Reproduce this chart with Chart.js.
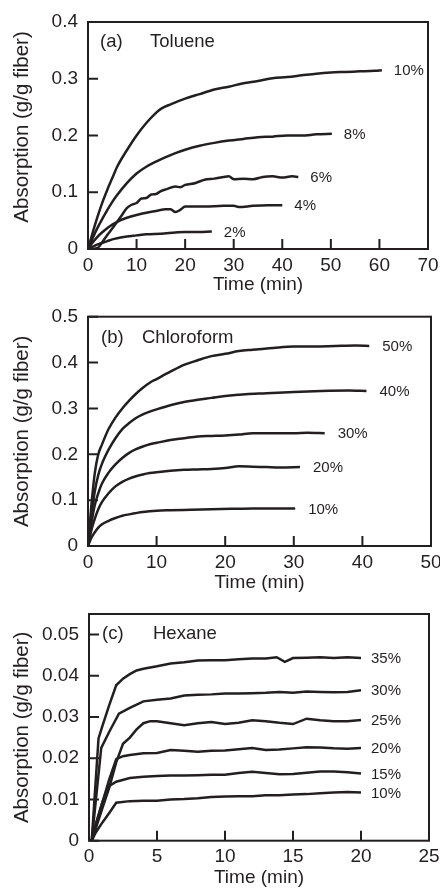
<!DOCTYPE html>
<html>
<head>
<meta charset="utf-8">
<script src="https://cdn.jsdelivr.net/npm/chart.js@4.4.0/dist/chart.umd.min.js"></script>
<style>
    html, body { margin: 0; padding: 0; background: #fff; overflow: hidden; }
    #wrap { position: relative; width: 440px; height: 889px; }
    canvas { position: absolute; left: 0; }
</style>
</head>
<body>
<div id="wrap">
    <canvas id="chartA" width="440" height="296" style="top:0px"></canvas>
    <canvas id="chartB" width="440" height="298" style="top:296px"></canvas>
    <canvas id="chartC" width="440" height="293" style="top:596px"></canvas>
</div>
<script>
// (a) Toluene
const tolT10 = [0, 1, 2, 3, 4, 5, 6, 8, 10, 12, 14, 15, 17, 20, 23, 26, 29, 32, 35, 38, 41, 44, 47, 50, 53, 56, 59, 60.5];
const tolY10 = [0, 0.03, 0.058, 0.083, 0.105, 0.125, 0.145, 0.174, 0.2, 0.222, 0.24, 0.247, 0.255, 0.265, 0.273, 0.281, 0.286, 0.292, 0.296, 0.301, 0.303, 0.306, 0.309, 0.311, 0.312, 0.313, 0.314, 0.315];
const tolT8 = [0, 1, 2, 3, 4, 5, 6, 8, 10, 12, 14, 16, 18, 20, 23, 26, 29, 32, 35, 38, 41, 44, 47, 50.2];
const tolY8 = [0, 0.02, 0.038, 0.054, 0.069, 0.083, 0.095, 0.116, 0.133, 0.145, 0.154, 0.162, 0.169, 0.175, 0.182, 0.187, 0.191, 0.194, 0.197, 0.198, 0.2, 0.2, 0.202, 0.203];
const tolT6 = [0, 2, 3, 4, 5, 6, 7, 8, 9, 10, 11, 12, 13, 14, 15, 16, 18, 19, 20, 22, 24, 26, 28, 29, 30, 32, 34, 36, 38, 40, 42, 43.3];
const tolY6 = [0, 0.002, 0.013, 0.025, 0.036, 0.048, 0.06, 0.072, 0.078, 0.081, 0.089, 0.09, 0.096, 0.097, 0.102, 0.105, 0.11, 0.109, 0.113, 0.116, 0.122, 0.124, 0.127, 0.128, 0.123, 0.124, 0.123, 0.127, 0.128, 0.126, 0.128, 0.127];
const tolT4 = [0, 1, 2, 3, 4, 5, 6, 8, 10, 12, 14, 16, 17, 18, 19, 20, 24, 28, 30, 31, 34, 37, 40];
const tolY4 = [0, 0.012, 0.022, 0.03, 0.037, 0.043, 0.048, 0.055, 0.06, 0.064, 0.067, 0.07, 0.07, 0.065, 0.069, 0.075, 0.075, 0.076, 0.076, 0.074, 0.076, 0.077, 0.077];
const tolT2 = [0, 1, 2, 3, 4, 5, 6, 8, 10, 12, 15, 18, 20, 22, 25.5];
const tolY2 = [0, 0.004, 0.008, 0.011, 0.014, 0.017, 0.019, 0.022, 0.024, 0.026, 0.027, 0.029, 0.03, 0.03, 0.031];

// (b) Chloroform
const chlT50 = [0, 0.5, 1, 1.5, 2, 3, 4, 5, 6, 7, 8, 9, 10, 12, 14, 16, 18, 20, 22, 24, 27, 30, 33, 36, 39, 41];
const chlY50 = [0, 0.09, 0.16, 0.2, 0.22, 0.255, 0.28, 0.3, 0.317, 0.332, 0.345, 0.356, 0.364, 0.38, 0.395, 0.405, 0.414, 0.419, 0.425, 0.428, 0.432, 0.435, 0.435, 0.436, 0.437, 0.436];
const chlT40 = [0, 0.5, 1, 1.5, 2, 3, 4, 5, 6, 7, 8, 9, 10, 12, 14, 16, 18, 20, 23, 26, 30, 34, 38, 40.6];
const chlY40 = [0, 0.07, 0.12, 0.155, 0.178, 0.21, 0.235, 0.255, 0.268, 0.279, 0.287, 0.293, 0.298, 0.307, 0.314, 0.319, 0.323, 0.327, 0.331, 0.333, 0.336, 0.338, 0.339, 0.338];
const chlT30 = [0, 0.5, 1, 1.5, 2, 3, 4, 5, 6, 7, 8, 9, 10, 12, 14, 16, 18, 20, 22, 24, 26, 28, 30, 32, 34.5];
const chlY30 = [0, 0.05, 0.09, 0.115, 0.135, 0.16, 0.178, 0.192, 0.203, 0.211, 0.217, 0.222, 0.225, 0.231, 0.235, 0.239, 0.24, 0.241, 0.243, 0.246, 0.246, 0.246, 0.246, 0.247, 0.246];
const chlT20 = [0, 0.5, 1, 1.5, 2, 3, 4, 5, 6, 7, 8, 9, 10, 12, 14, 16, 18, 20, 22, 24, 26, 28, 30.9];
const chlY20 = [0, 0.035, 0.06, 0.08, 0.095, 0.115, 0.13, 0.14, 0.147, 0.152, 0.156, 0.159, 0.161, 0.164, 0.166, 0.167, 0.168, 0.17, 0.174, 0.173, 0.172, 0.171, 0.172];
const chlT10 = [0, 0.5, 1, 1.5, 2, 3, 4, 5, 6, 8, 10, 12, 15, 18, 21, 24, 27, 30.2];
const chlY10 = [0, 0.018, 0.03, 0.04, 0.047, 0.055, 0.061, 0.066, 0.069, 0.074, 0.077, 0.078, 0.079, 0.08, 0.081, 0.082, 0.082, 0.082];

// (c) Hexane
const hexT35 = [0.2, 0.7, 1, 1.5, 2, 2.5, 3, 3.5, 4, 4.5, 5, 6, 7, 8, 9, 10, 11, 12, 13, 13.8, 14.4, 15, 16, 17, 18, 19, 20];
const hexY35 = [0, 0.0248, 0.028, 0.033, 0.0377, 0.0393, 0.0404, 0.0413, 0.0417, 0.042, 0.0423, 0.043, 0.0433, 0.0437, 0.0438, 0.0438, 0.044, 0.0442, 0.0442, 0.0445, 0.0434, 0.0443, 0.0444, 0.0445, 0.0443, 0.0445, 0.0443];
const hexT30 = [0.2, 0.9, 1.5, 2.2, 3, 4, 5, 6, 7, 8, 9, 10, 11, 12, 13, 14, 15, 16, 17, 18, 19, 20];
const hexY30 = [0, 0.0225, 0.0265, 0.0308, 0.0322, 0.0338, 0.0342, 0.0345, 0.0352, 0.0354, 0.0355, 0.0357, 0.0357, 0.0358, 0.0359, 0.0361, 0.0359, 0.0362, 0.0361, 0.036, 0.0361, 0.0365];
const hexT25 = [0.2, 0.5, 1, 1.5, 2, 2.5, 3, 3.5, 4, 4.5, 5, 6, 7, 8, 9, 10, 11, 12, 13, 14, 15, 16, 17, 18, 19, 20];
const hexY25 = [0, 0.003, 0.008, 0.013, 0.019, 0.0235, 0.025, 0.027, 0.0285, 0.029, 0.029, 0.0285, 0.028, 0.0285, 0.0288, 0.0283, 0.0286, 0.0292, 0.029, 0.0286, 0.0283, 0.0296, 0.0292, 0.029, 0.029, 0.0293];
const hexT20 = [0.2, 0.5, 1, 1.5, 2, 2.5, 3, 4, 5, 6, 7, 8, 9, 10, 11, 12, 13, 14, 15, 16, 17, 18, 19, 20];
const hexY20 = [0, 0.004, 0.0095, 0.015, 0.0198, 0.0205, 0.0208, 0.0212, 0.0213, 0.022, 0.0218, 0.0216, 0.0218, 0.0219, 0.0222, 0.0225, 0.022, 0.0221, 0.0224, 0.0227, 0.0226, 0.0224, 0.0223, 0.0225];
const hexT15 = [0.2, 0.5, 1, 1.5, 2, 3, 4, 5, 6, 7, 8, 9, 10, 11, 12, 13, 14, 15, 16, 17, 18, 19, 20];
const hexY15 = [0, 0.004, 0.0095, 0.0133, 0.0143, 0.0152, 0.0155, 0.0157, 0.0158, 0.0158, 0.0159, 0.016, 0.016, 0.0164, 0.0167, 0.0164, 0.0161, 0.0162, 0.0165, 0.0168, 0.0168, 0.0166, 0.0163];
const hexT10 = [0.2, 0.5, 1, 1.5, 2, 3, 4, 5, 6, 7, 8, 9, 10, 11, 12, 13, 14, 15, 16, 17, 18, 19, 20];
const hexY10 = [0, 0.002, 0.0045, 0.0068, 0.0092, 0.0096, 0.0097, 0.0097, 0.01, 0.0101, 0.0103, 0.0106, 0.0107, 0.0108, 0.0108, 0.011, 0.011, 0.0112, 0.0113, 0.0115, 0.0117, 0.0118, 0.0117];

// tick values and labels
const tolXTicks = [0, 10, 20, 30, 40, 50, 60, 70];
const tolYTicks = [0, 0.1, 0.2, 0.3, 0.4];
const tolYLabels = ['0', '0.1', '0.2', '0.3', '0.4'];
const chlXTicks = [0, 10, 20, 30, 40, 50];
const chlYTicks = [0, 0.1, 0.2, 0.3, 0.4, 0.5];
const chlYLabels = ['0', '0.1', '0.2', '0.3', '0.4', '0.5'];
const hexXTicks = [0, 5, 10, 15, 20, 25];
const hexYTicks = [0, 0.01, 0.02, 0.03, 0.04, 0.05];
const hexYLabels = ['0', '0.01', '0.02', '0.03', '0.04', '0.05'];

const INK = '#231f20';
const FONT = '"Liberation Sans", Arial, Helvetica, sans-serif';
const TICK_LEN = 10;

// gabung array waktu + nilai jadi titik {x, y}
function toPoints(ts, ys) {
    return ts.map((t, i) => ({ x: t, y: ys[i] }));
}

// label seri, judul panel, tick ke dalam dan bingkai
const panelDecor = {
    id: 'panelDecor',
    afterDatasetsDraw(chart, args, opts) {
        const ctx = chart.ctx;
        const area = chart.chartArea;
        const xs = chart.scales.x;
        const ys = chart.scales.y;
        ctx.save();
        ctx.fillStyle = INK;
        ctx.textBaseline = 'middle';
        ctx.textAlign = 'left';
        ctx.font = '15px ' + FONT;
        chart.data.datasets.forEach((ds, i) => {
            const pts = chart.getDatasetMeta(i).data;
            const last = pts[pts.length - 1];
            ctx.fillText(ds.label, last.x + opts.gap, last.y + 1);
        });
        ctx.font = '18.5px ' + FONT;
        ctx.fillText(opts.tag, area.left + opts.tagX, area.top + opts.tagY);
        ctx.fillText(opts.solvent, area.left + opts.solventX, area.top + opts.tagY);

        ctx.strokeStyle = INK;
        ctx.lineWidth = 2;
        ctx.beginPath();
        xs.ticks.forEach(t => {
            const px = xs.getPixelForValue(t.value);
            ctx.moveTo(px, area.bottom);
            ctx.lineTo(px, area.bottom - TICK_LEN);
        });
        ys.ticks.forEach(t => {
            const py = ys.getPixelForValue(t.value);
            ctx.moveTo(area.left, py);
            ctx.lineTo(area.left + TICK_LEN, py);
        });
        ctx.stroke();
        ctx.strokeRect(area.left, area.top, area.right - area.left, area.bottom - area.top);
        ctx.restore();
    }
};

function makePanel(id, p) {
    const ctx = document.getElementById(id).getContext('2d');
    const datasets = p.series.map(s => ({
        label: s.label,
        data: toPoints(s.t, s.y),
        borderColor: INK,
        borderWidth: 2.5,
        pointRadius: 0,
        fill: false,
        tension: p.smooth ? 0.3 : 0,
        cubicInterpolationMode: p.smooth ? 'monotone' : 'default'
    }));

    return new Chart(ctx, {
        type: 'line',
        data: { datasets: datasets },
        options: {
            responsive: false,
            animation: false,
            events: [],
            layout: { padding: { top: p.padTop, right: p.padRight, left: 0, bottom: 0 } },
            plugins: {
                legend: { display: false },
                tooltip: { enabled: false },
                panelDecor: { tag: p.tag, solvent: p.solvent, tagX: p.tagX, solventX: p.solventX, tagY: p.tagY, gap: p.gap }
            },
            scales: {
                x: {
                    type: 'linear',
                    min: p.xTicks[0],
                    max: p.xTicks[p.xTicks.length - 1],
                    afterBuildTicks: sc => { sc.ticks = p.xTicks.map(v => ({ value: v })); },
                    afterFit: sc => { sc.height = p.xAxisH; sc.paddingLeft = 0; sc.paddingRight = 0; },
                    ticks: { color: INK, font: { family: FONT, size: 19 }, padding: 5, maxRotation: 0, autoSkip: false },
                    grid: { display: false, drawTicks: false },
                    border: { display: false },
                    title: { display: true, text: 'Time (min)', color: INK, font: { family: FONT, size: 19 }, padding: { top: 0, bottom: 0 } }
                },
                y: {
                    type: 'linear',
                    min: p.yMin,
                    max: p.yMax,
                    afterBuildTicks: sc => { sc.ticks = p.yTicks.map(v => ({ value: v })); },
                    afterFit: sc => { sc.width = p.yAxisW; sc.paddingTop = 0; sc.paddingBottom = 0; },
                    ticks: {
                        color: INK,
                        font: { family: FONT, size: 19 },
                        padding: 10,
                        autoSkip: false,
                        callback: (v, i) => p.yLabels[i]
                    },
                    grid: { display: false, drawTicks: false },
                    border: { display: false },
                    title: { display: true, text: p.yTitle, color: INK, font: { family: FONT, size: 20.5 }, padding: { top: 10, bottom: 0 } }
                }
            }
        },
        plugins: [panelDecor]
    });
}

makePanel('chartA', {
    series: [
        { label: '10%', t: tolT10, y: tolY10 },
        { label: '8%', t: tolT8, y: tolY8 },
        { label: '6%', t: tolT6, y: tolY6 },
        { label: '4%', t: tolT4, y: tolY4 },
        { label: '2%', t: tolT2, y: tolY2 }
    ],
    smooth: true,
    xTicks: tolXTicks, yTicks: tolYTicks, yLabels: tolYLabels,
    yMin: 0, yMax: 0.4,
    yTitle: '   Absorption (g/g fiber)',
    padTop: 22, padRight: 12, xAxisH: 47, yAxisW: 88,
    tag: '(a)', solvent: 'Toluene', tagX: 12, solventX: 62, tagY: 20, gap: 12
});

makePanel('chartB', {
    series: [
        { label: '50%', t: chlT50, y: chlY50 },
        { label: '40%', t: chlT40, y: chlY40 },
        { label: '30%', t: chlT30, y: chlY30 },
        { label: '20%', t: chlT20, y: chlY20 },
        { label: '10%', t: chlT10, y: chlY10 }
    ],
    smooth: true,
    xTicks: chlXTicks, yTicks: chlYTicks, yLabels: chlYLabels,
    yMin: 0, yMax: 0.5,
    yTitle: 'Absorption (g/g fiber)',
    padTop: 20.7, padRight: 9, xAxisH: 48, yAxisW: 88,
    tag: '(b)', solvent: 'Chloroform', tagX: 13, solventX: 54, tagY: 21.5, gap: 13
});

makePanel('chartC', {
    series: [
        { label: '35%', t: hexT35, y: hexY35 },
        { label: '30%', t: hexT30, y: hexY30 },
        { label: '25%', t: hexT25, y: hexY25 },
        { label: '20%', t: hexT20, y: hexY20 },
        { label: '15%', t: hexT15, y: hexY15 },
        { label: '10%', t: hexT10, y: hexY10 }
    ],
    smooth: false,
    xTicks: hexXTicks, yTicks: hexYTicks, yLabels: hexYLabels,
    yMin: 0, yMax: 0.055,
    yTitle: 'Absorption (g/g fiber)',
    padTop: 18, padRight: 11, xAxisH: 48.3, yAxisW: 89,
    tag: '(c)', solvent: 'Hexane', tagX: 13, solventX: 64, tagY: 19.5, gap: 10
});
</script>
</body>
</html>
